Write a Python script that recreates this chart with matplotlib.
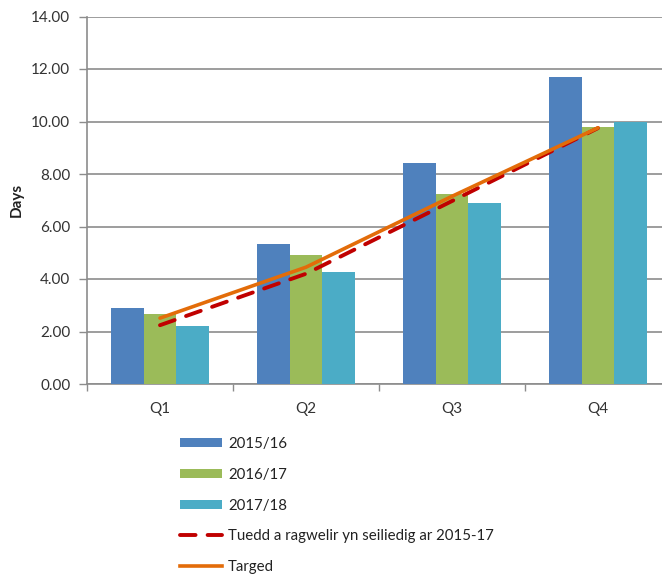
import matplotlib
matplotlib.use("Agg")
import matplotlib.pyplot as plt
import numpy as np
from matplotlib.patches import Patch
from matplotlib.lines import Line2D

plt.rcParams['font.family'] = ['Lato', 'DejaVu Sans']

categories = ["Q1", "Q2", "Q3", "Q4"]
series_names = ["2015/16", "2016/17", "2017/18"]
v_2015 = [2.91, 5.32, 8.41, 11.71]
v_2016 = [2.68, 4.90, 7.23, 9.80]
v_2017 = [2.21, 4.27, 6.88, 9.97]
trend = [2.24, 4.20, 6.97, 9.75]
target = [2.51, 4.45, 7.15, 9.76]
trend_label = "Tuedd a ragwelir yn seiliedig ar 2015-17"
target_label = "Targed"
y_ticks = [0, 2, 4, 6, 8, 10, 12, 14]

colors = ["#4F81BD", "#9BBB59", "#4BACC6"]
red = "#C00000"
orange = "#E36C09"
grid_c = "#8C8C8C"

W, H = 662, 574
fig = plt.figure(figsize=(W / 100, H / 100), dpi=100)
left, right, bottom, top = 87, 671, 384, 16.5
ax = fig.add_axes([left / W, 1 - bottom / H, (right - left) / W, (bottom - top) / H])

x = np.arange(len(categories))
w = 1 / 4.5
for i, (vals, c) in enumerate(zip([v_2015, v_2016, v_2017], colors)):
    ax.bar(x + (i - 1) * w, vals, width=w, color=c, zorder=3, linewidth=0)

ax.plot(x, trend, color=red, lw=2.8, dashes=(4.0, 3.1), dash_capstyle='round',
        solid_capstyle='round', zorder=4)
ax.plot(x, target, color=orange, lw=2.6, solid_capstyle='round', zorder=5)

ax.set_xlim(-0.5, 3.5)
ax.set_ylim(0, 14)
ax.set_yticks(y_ticks)
ax.set_yticklabels([f"{v:.2f}" for v in y_ticks], fontsize=11, color="#333333")
ax.set_xticks(x)
ax.set_xticklabels(categories, fontsize=11, color="#333333")
ax.set_xticks(np.arange(-0.5, 4.0, 1.0), minor=True)
ax.tick_params(axis='x', which='major', length=0, pad=13)
ax.tick_params(axis='x', which='minor', length=5, width=1, color=grid_c, direction='out')
ax.tick_params(axis='y', which='major', length=6, width=1, color=grid_c, direction='out', pad=6)

ax.yaxis.grid(True, color=grid_c, lw=1.2, zorder=0)
ax.set_axisbelow(True)
for s in ['top', 'right']:
    ax.spines[s].set_visible(False)
for s in ['left', 'bottom']:
    ax.spines[s].set_color(grid_c)
    ax.spines[s].set_linewidth(1.2)

ax.set_ylabel("Days", fontsize=11, fontweight='bold', color="#222222")
ax.yaxis.set_label_coords((24 - left) / (right - left), 0.5)

handles = [Patch(facecolor=c, edgecolor='none') for c in colors]
handles.append(Line2D([0], [0], color=red, lw=2.8, dashes=(4.0, 3.1), dash_capstyle='round'))
handles.append(Line2D([0], [0], color=orange, lw=2.6))
labels = series_names + [trend_label, target_label]
fig.legend(handles, labels, loc='upper left', bbox_to_anchor=(180 / W, 1 - 437 / H),
           frameon=False, fontsize=10.8, handlelength=2.8, handleheight=0.55,
           handletextpad=0.4, labelspacing=1.12, borderpad=0, borderaxespad=0,
           labelcolor="#222222")

fig.savefig("out.png", dpi=100)
